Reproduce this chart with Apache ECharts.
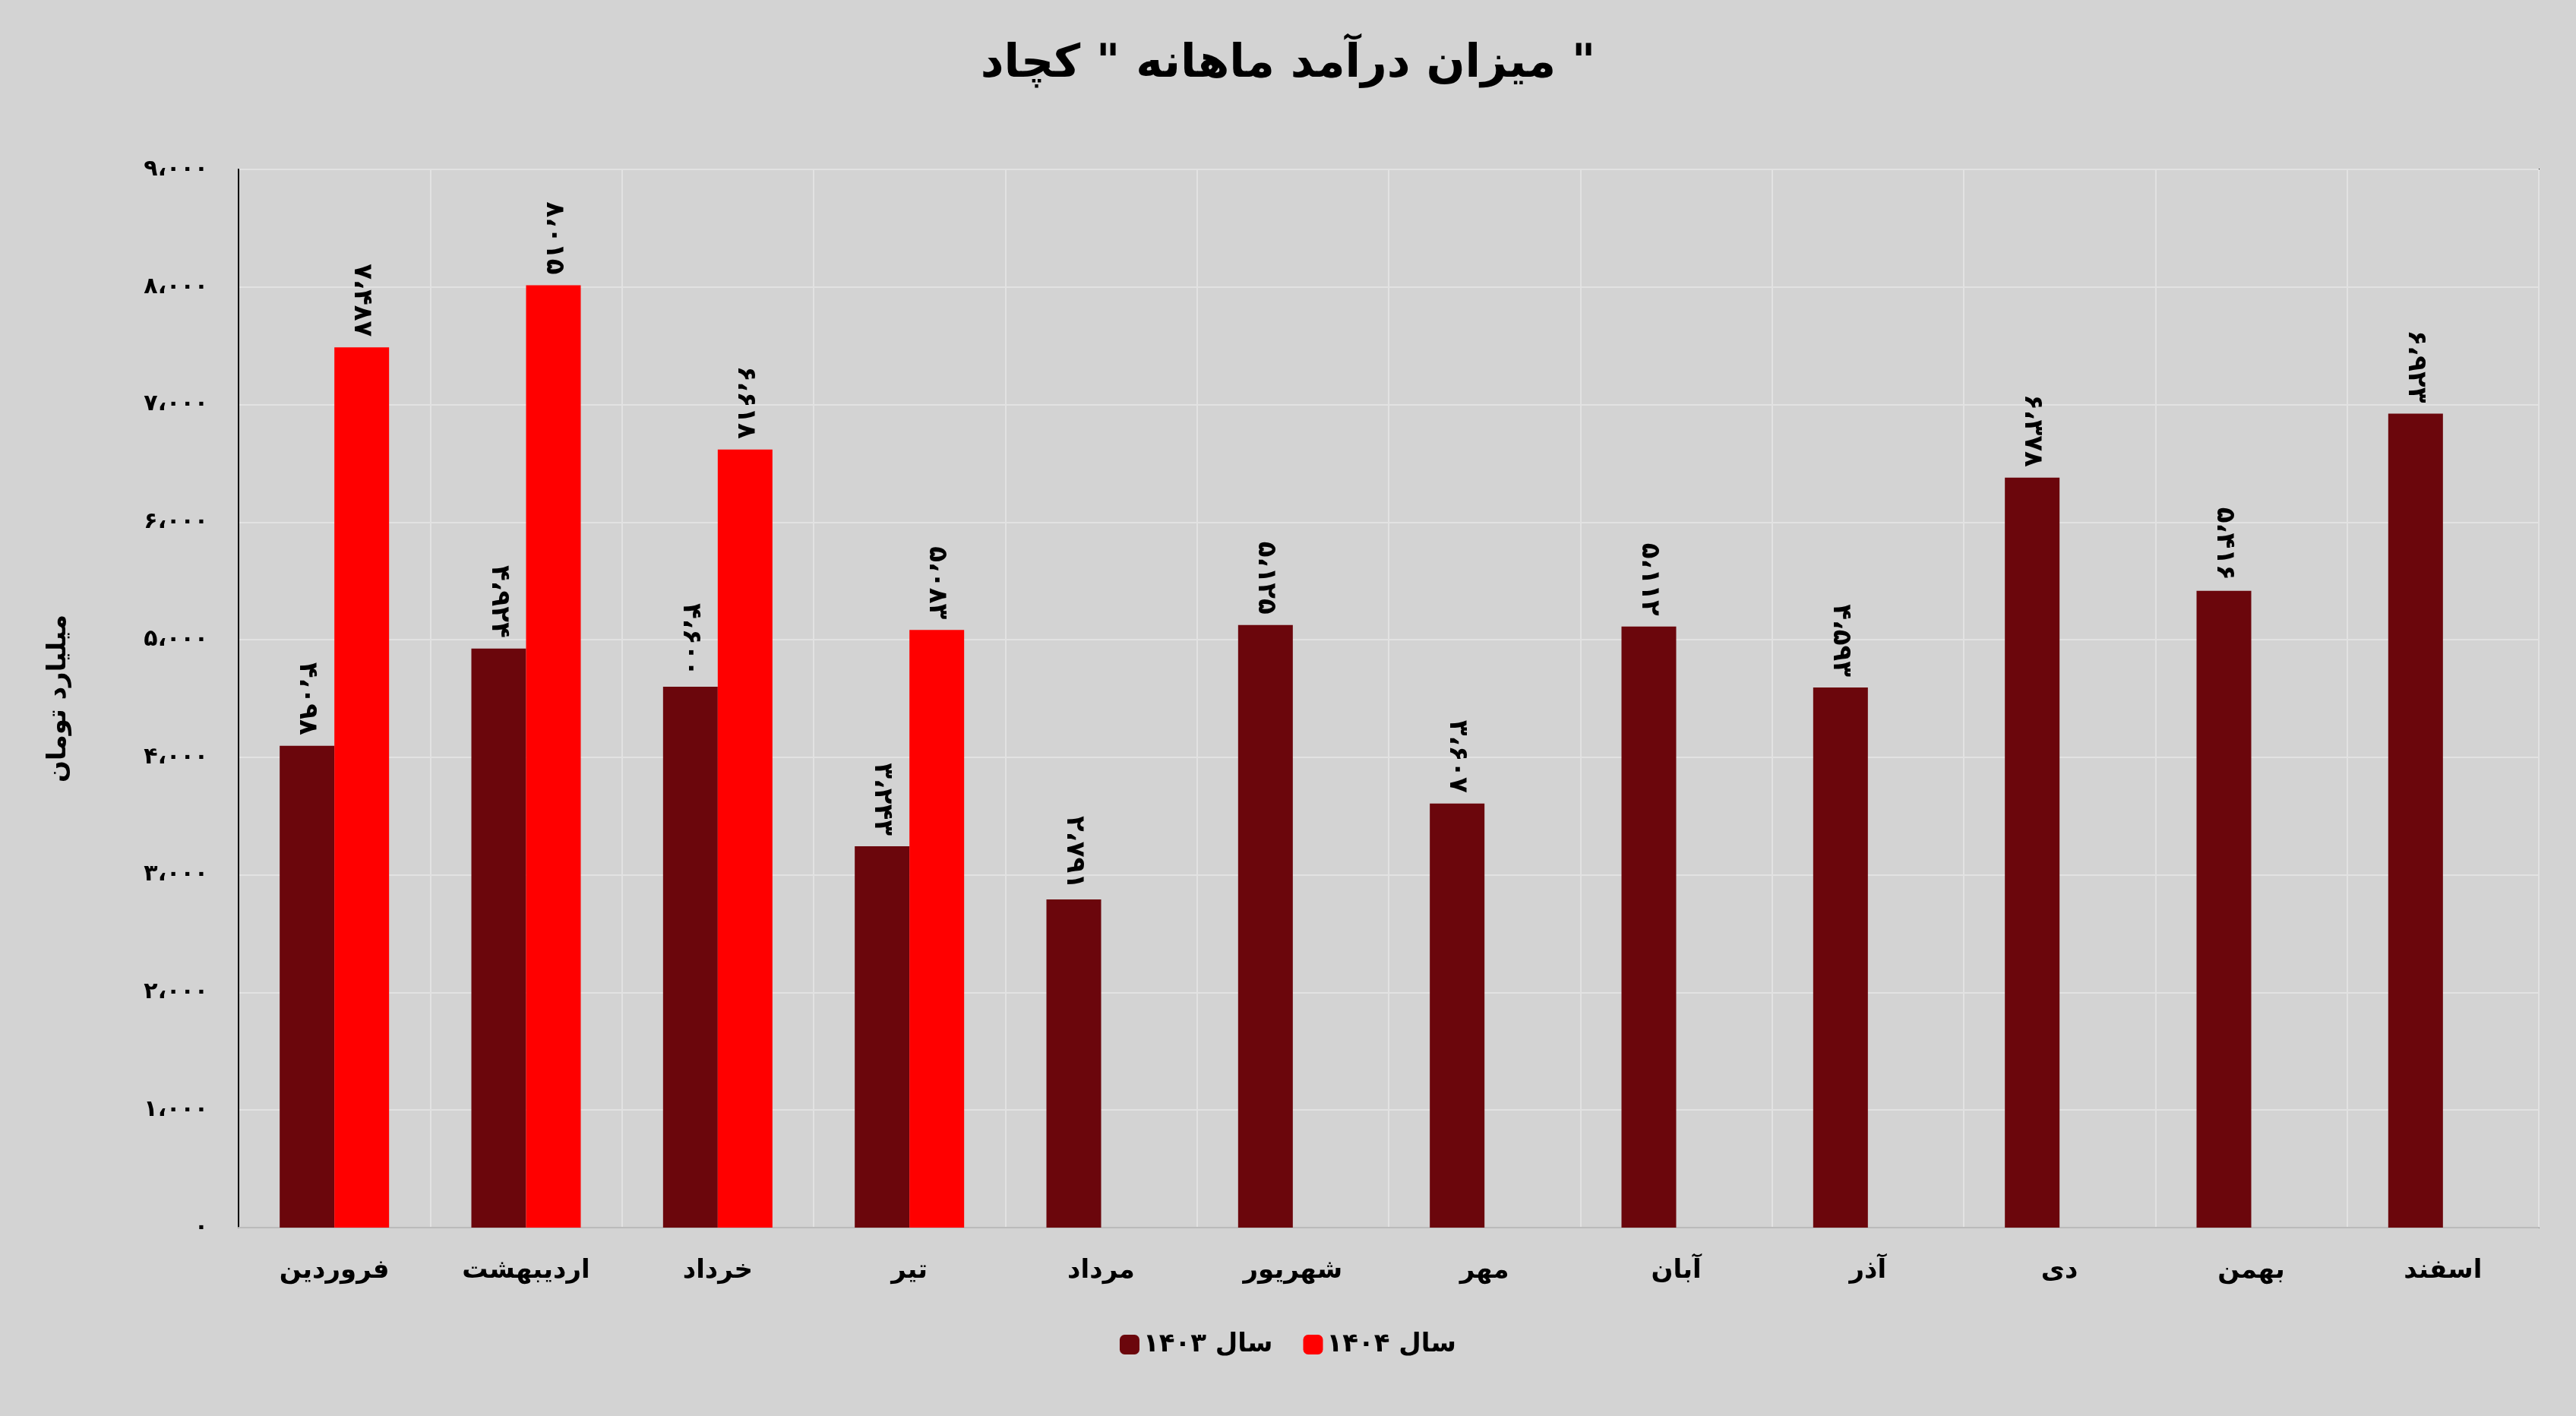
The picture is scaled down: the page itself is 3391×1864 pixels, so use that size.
<!DOCTYPE html>
<html><head><meta charset="utf-8">
<script src="https://cdn.jsdelivr.net/npm/echarts@6/dist/echarts.min.js"></script>
<style>html,body{margin:0;background:#d3d3d3}#c{width:3391px;height:1864px}</style>
</head><body><div id="c"></div>
<script>
const months = ['فروردین','اردیبهشت','خرداد','تیر','مرداد','شهریور','مهر','آبان','آذر','دی','بهمن','اسفند'];
const rev1403 = [4098,4924,4600,3243,2791,5125,3607,5112,4593,6378,5416,6923];
const rev1404 = [7487,8015,6618,5083,null,null,null,null,null,null,null,null];
const seriesNames = ['سال ۱۴۰۳','سال ۱۴۰۴'];
const fa = n => { const s = String(n).replace(/\B(?=(\d{3})+(?!\d))/g,'،'); return s.replace(/\d/g,d=>'۰۱۲۳۴۵۶۷۸۹'[d]); };
const F = 'DejaVu Sans';
const lbl = {show:true,position:'top',distance:14,rotate:-90,align:'right',verticalAlign:'middle',
  fontFamily:F,fontWeight:'bold',fontSize:34,color:'#000',formatter:p=>fa(p.value)};
const chart = echarts.init(document.getElementById('c'));
chart.setOption({
  backgroundColor:'#d3d3d3',
  title:{text:'میزان درآمد ماهانه " کچاد "',left:'center',top:50,textStyle:{fontFamily:F,fontWeight:'bold',fontSize:60,color:'#000'}},
  grid:{left:314,right:49,top:223,bottom:248,show:true,borderColor:'#000',borderWidth:2},
  legend:{bottom:72,left:'center',itemWidth:26,itemHeight:26,itemGap:40,textStyle:{fontFamily:F,fontWeight:'bold',fontSize:34,color:'#000'}},
  xAxis:{type:'category',data:months,axisTick:{show:false},axisLine:{lineStyle:{color:'#bbb',width:2}},
    splitLine:{show:true,lineStyle:{color:'#e2e2e2',width:2}},
    axisLabel:{fontFamily:F,fontWeight:'bold',fontSize:34,color:'#000',margin:40}},
  yAxis:{type:'value',min:0,max:9000,interval:1000,name:'میلیارد تومان',nameLocation:'middle',nameGap:220,nameRotate:90,
    nameTextStyle:{fontFamily:F,fontWeight:'bold',fontSize:34,color:'#000'},
    axisLine:{show:true,lineStyle:{color:'#000',width:2}},
    splitLine:{lineStyle:{color:'#e2e2e2',width:2}},
    axisLabel:{fontFamily:F,fontWeight:'bold',fontSize:30,color:'#000',margin:40,formatter:v=>fa(v)}},
  series:[
    {name:seriesNames[0],type:'bar',data:rev1403,barWidth:72,barGap:'0%',itemStyle:{color:'#6b060c'},label:lbl},
    {name:seriesNames[1],type:'bar',data:rev1404,barWidth:72,barGap:'0%',itemStyle:{color:'#ff0000'},label:lbl}
  ]
});
</script></body></html>
